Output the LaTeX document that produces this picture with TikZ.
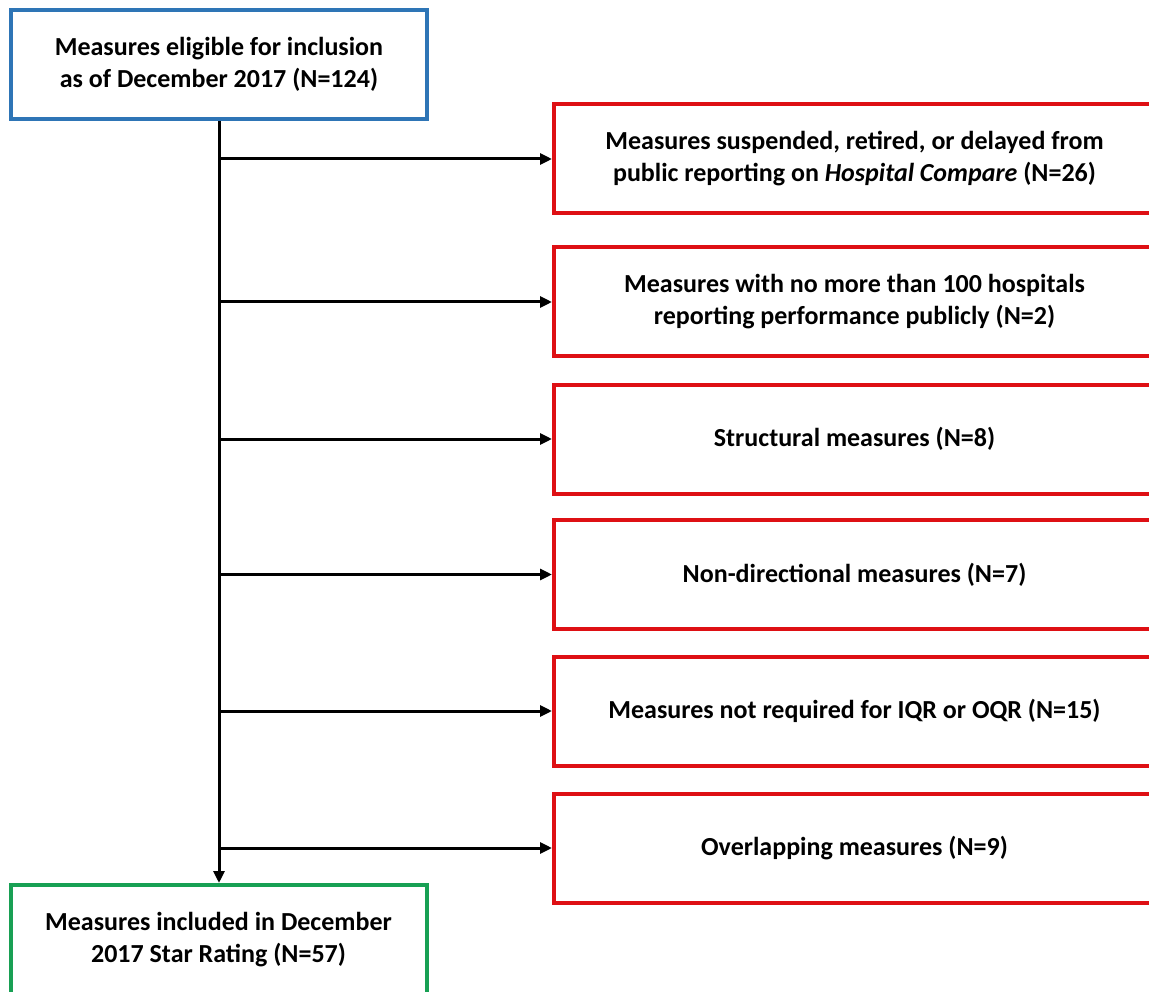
\documentclass[tikz,border=0pt]{standalone}
\usepackage{fontspec}
\setmainfont{Carlito}
\usetikzlibrary{arrows.meta}

\definecolor{boxblue}{RGB}{46,117,182}
\definecolor{boxred}{RGB}{222,16,20}
\definecolor{boxgreen}{RGB}{24,160,84}

\tikzset{
  flowbox/.style={draw, line width=4pt, rectangle, align=center, inner sep=0pt,
    font=\fontsize{26}{32}\selectfont\bfseries},
  mainbox/.style={flowbox, minimum width=416pt, minimum height=109pt},
  exclbox/.style={flowbox, draw=boxred, minimum width=601pt, minimum height=109pt},
  flowline/.style={line width=3pt, -{Triangle[length=12pt,width=11pt]}}
}

\begin{document}
\begin{tikzpicture}[x=1pt,y=-1pt]
  \useasboundingbox (0,0) rectangle (1149,992);
  % start and end boxes
  \node[mainbox, draw=boxblue] (start) at (219,64.5)
    {Measures eligible for inclusion\\as of December 2017 (N=124)};
  \node[mainbox, draw=boxgreen, minimum height=110pt] (final) at (218.5,940)
    {Measures included in December\\2017 Star Rating (N=57)};
  % exclusion boxes
  \foreach \i/\y/\txt in {%
      1/159/{Measures suspended, retired, or delayed from\\public reporting on \textit{Hospital Compare} (N=26)},
      2/302/{Measures with no more than 100 hospitals\\reporting performance publicly (N=2)},
      3/439/{Structural measures (N=8)},
      4/574.5/{Non-directional measures (N=7)},
      5/711/{Measures not required for IQR or OQR (N=15)},
      6/848/{Overlapping measures (N=9)}}
  {
    \node[exclbox] (excl\i) at (854.5,\y) {\txt};
    \coordinate (split\i) at (start.south |- excl\i.west);
    \draw[flowline] (split\i) -- (excl\i.west);
  }
  \draw[flowline] (start.south) -- (start.south |- final.north);
\end{tikzpicture}
\end{document}
